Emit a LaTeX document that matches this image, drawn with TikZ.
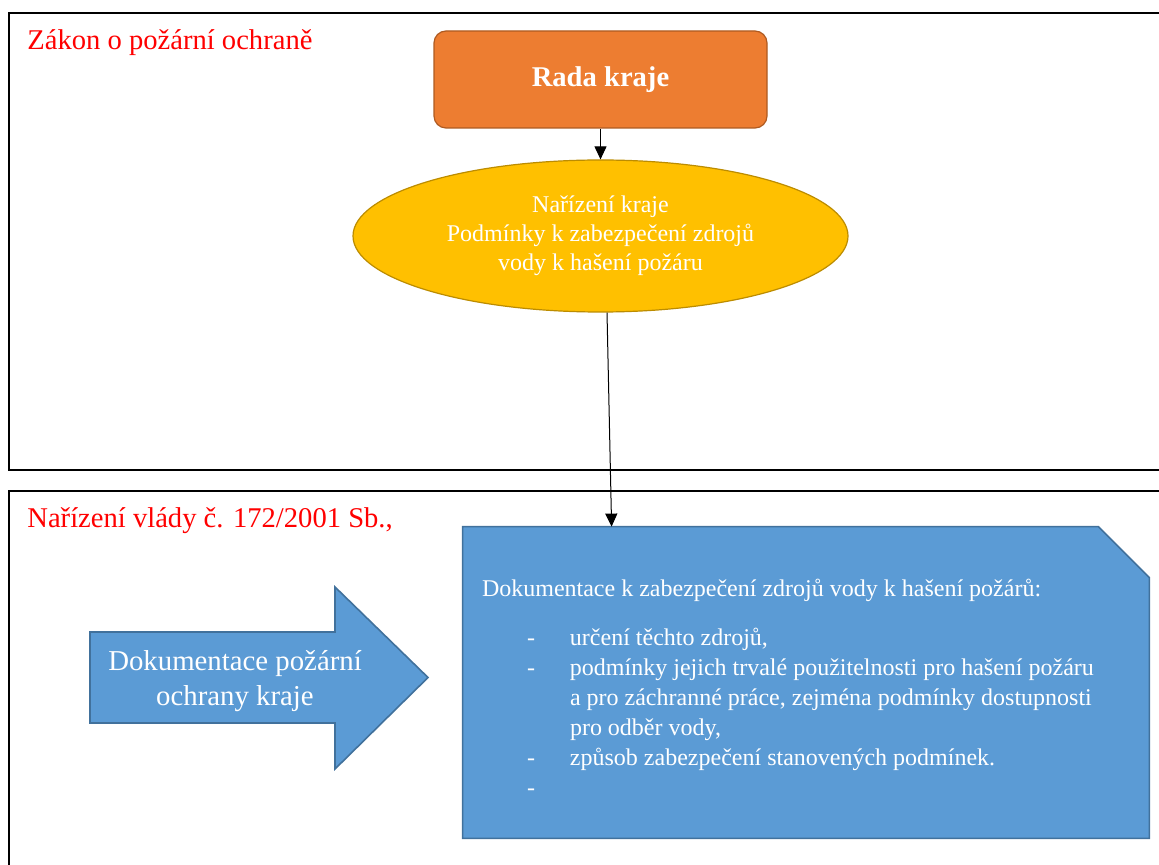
\documentclass[tikz,border=0pt]{standalone}
\usepackage{fontspec}
\setmainfont{Liberation Serif}
\usetikzlibrary{shapes.geometric,arrows.meta}
\definecolor{radafill}{HTML}{ED7D31}
\definecolor{radaline}{HTML}{AE5A21}
\definecolor{nafill}{HTML}{FFC000}
\definecolor{naline}{HTML}{BC8C00}
\definecolor{docfill}{HTML}{5B9BD5}
\definecolor{docline}{HTML}{41719C}
\tikzstyle{frame} = [draw=black, line width=1pt]
\tikzstyle{zakonlabel} = [text=red, font=\fontsize{14.3}{17}\selectfont, anchor=base west, inner sep=0pt]
\tikzstyle{radabox} = [draw=radaline, fill=radafill, line width=0.6pt, rectangle, rounded corners=6pt,
    minimum width=166.5pt, minimum height=48.5pt, text=white, font=\fontsize{14.3}{17}\selectfont\bfseries]
\tikzstyle{narizenibox} = [draw=naline, fill=nafill, line width=0.6pt, ellipse, inner sep=0pt,
    minimum width=247.5pt, minimum height=76pt, text=white, align=center, font=\fontsize{12}{14.5}\selectfont]
\tikzstyle{docshape} = [draw=docline, fill=docfill, line width=0.8pt]
\tikzstyle{doctext} = [text=white, align=left, inner sep=0pt, font=\fontsize{12}{15}\selectfont]
\tikzstyle{link} = [-{Triangle[width=6pt,length=6.5pt]}, line width=0.5pt]

\begin{document}
\begin{tikzpicture}[x=0.5pt, y=-0.5pt]
                \useasboundingbox (0,0) rectangle (1159,865);
                \clip (0,0) rectangle (1159,865);
                \draw[frame] (9,13) rectangle (1175,470);
                \draw[frame] (9,491) rectangle (1175,885);
                \node[zakonlabel] (zakon) at (27,50) {Zákon o požární ochraně};
                \node[zakonlabel] (vlada) at (27,527) {Nařízení vlády č. 172/2001 Sb.,};
                \node[radabox] (rada) at (600.5,79.5) {Rada kraje};
                \node[narizenibox] (narizeni) at (600.5,236) {Nařízení kraje\\Podmínky k zabezpečení zdrojů\\vody k hašení požáru};
                \draw[link] (rada) -- (narizeni);
                \node[minimum width=343pt, minimum height=155.5pt, inner sep=0pt] (doc) at (806,682.5) {};
                \filldraw[docshape] (doc.north west) -- ([xshift=-25.5pt]doc.north east) -- ([yshift=-25.5pt]doc.north east)
                    -- (doc.south east) -- (doc.south west) -- cycle;
                \node[doctext, anchor=north west] (doctxt) at ([xshift=9.5pt,yshift=-26pt]doc.north west) {%
                    Dokumentace k zabezpečení zdrojů vody k hašení požárů:\\[9.5pt]
                    \hspace*{22.5pt}\makebox[21.5pt][l]{-}určení těchto zdrojů,\\
                    \hspace*{22.5pt}\makebox[21.5pt][l]{-}podmínky jejich trvalé použitelnosti pro hašení požáru\\
                    \hspace*{44pt}a pro záchranné práce, zejména podmínky dostupnosti\\
                    \hspace*{44pt}pro odběr vody,\\
                    \hspace*{22.5pt}\makebox[21.5pt][l]{-}způsob zabezpečení stanovených podmínek.\\
                    \hspace*{22.5pt}-};
                \draw[link] ([xshift=3.25pt]narizeni.south) -- ([xshift=74.5pt]doc.north west);
                \filldraw[docshape] (90,632) -- (335,632) -- (335,587) -- (428,677.5) -- (335,769) -- (335,723) -- (90,723) -- cycle;
                \node[text=white, align=center, inner sep=0pt, font=\fontsize{14.4}{17.5}\selectfont] (pozar) at (235,681) {Dokumentace požární\\ochrany kraje};
            \end{tikzpicture}
\end{document}
